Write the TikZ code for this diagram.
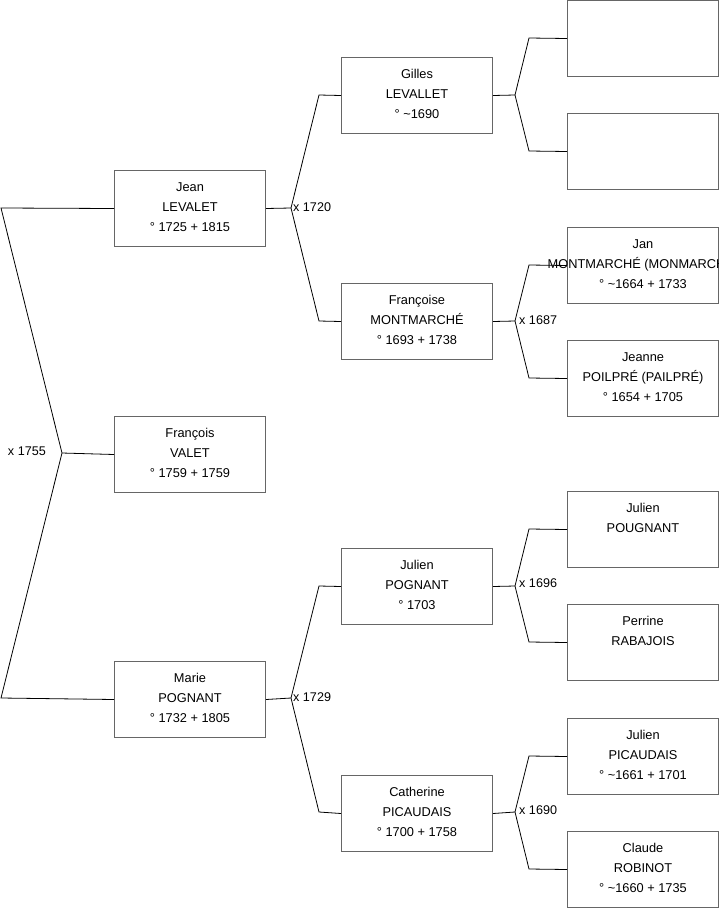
\documentclass[tikz,border=0pt]{standalone}
\usepackage{fontspec}
\setmainfont{Liberation Sans}
\begin{document}
\begin{tikzpicture}[x=1pt,y=-1pt,
  box/.style={draw=black!60,line width=1pt,fill=white,minimum width=151pt,minimum height=76pt,inner sep=0pt,anchor=north west},
  txt/.style={align=center,inner sep=0pt,font=\fontsize{12.8}{20}\selectfont},
  lbl/.style={inner sep=0pt,font=\fontsize{12.6}{15}\selectfont},
  conn/.style={draw=black,line width=0.8pt}]
\useasboundingbox (0,0) rectangle (719,908);
\clip (0,0) rectangle (719,908);
% column A
\node[box] (jean) at (114,170) {};
\node[box] (francois) at (114,416) {};
\node[box] (marie) at (114,661) {};
% column B
\node[box] (gilles) at (341,57) {};
\node[box] (francoise) at (341,283) {};
\node[box] (julien) at (341,548) {};
\node[box] (catherine) at (341,775) {};
% column C
\node[box] (c1) at (567,0) {};
\node[box] (c2) at (567,113) {};
\node[box] (c3) at (567,227) {};
\node[box] (c4) at (567,340) {};
\node[box] (c5) at (567,491) {};
\node[box] (c6) at (567,604) {};
\node[box] (c7) at (567,718) {};
\node[box] (c8) at (567,831) {};
% connectors
\coordinate (l1) at (1,208);
\coordinate (v0) at (62,453);
\coordinate (l2) at (1,698);
\draw[conn] (jean.west) -- (l1) -- (v0) -- (l2) -- (marie.west);
\draw[conn] (v0) -- (francois.west);
\node[lbl,anchor=east] (m0) at (46,451) {x 1755};

\coordinate (v1) at (291,208);
\draw[conn] (jean.east) -- (v1) -- (319,95) -- (gilles.west);
\draw[conn] (v1) -- (319,321) -- (francoise.west);
\node[lbl,anchor=west] (m1) at (293,207) {x 1720};

\coordinate (v2) at (291,698);
\draw[conn] (marie.east) -- (v2) -- (319,586) -- (julien.west);
\draw[conn] (v2) -- (319,812) -- (catherine.west);
\node[lbl,anchor=west] (m2) at (293,697) {x 1729};

\coordinate (v3) at (515,95);
\draw[conn] (gilles.east) -- (v3) -- (529,38) -- (c1.west);
\draw[conn] (v3) -- (529,151) -- (c2.west);

\coordinate (v4) at (515,321);
\draw[conn] (francoise.east) -- (v4) -- (529,265) -- (c3.west);
\draw[conn] (v4) -- (529,378) -- (c4.west);
\node[lbl,anchor=west] (m4) at (519,320) {x 1687};

\coordinate (v5) at (515,586);
\draw[conn] (julien.east) -- (v5) -- (529,529) -- (c5.west);
\draw[conn] (v5) -- (529,642) -- (c6.west);
\node[lbl,anchor=west] (m5) at (519,583) {x 1696};

\coordinate (v6) at (515,812);
\draw[conn] (catherine.east) -- (v6) -- (529,756) -- (c7.west);
\draw[conn] (v6) -- (529,869) -- (c8.west);
\node[lbl,anchor=west] (m6) at (519,810) {x 1690};
% texts
\tikzset{tshift/.style={yshift=1.5pt}}
\node[txt] (tjean) at ([tshift]jean.center) {Jean\\LEVALET\\° 1725 + 1815};
\node[txt] (tfrancois) at ([tshift]francois.center) {François\\VALET\\° 1759 + 1759};
\node[txt] (tmarie) at ([tshift]marie.center) {Marie\\POGNANT\\° 1732 + 1805};
\node[txt] (tgilles) at ([tshift]gilles.center) {Gilles\\LEVALLET\\° \textasciitilde1690};
\node[txt] (tfrancoise) at ([tshift]francoise.center) {Françoise\\MONTMARCHÉ\\° 1693 + 1738};
\node[txt] (tjulien) at ([tshift]julien.center) {Julien\\POGNANT\\° 1703};
\node[txt] (tcatherine) at ([tshift]catherine.center) {Catherine\\PICAUDAIS\\° 1700 + 1758};
\node[txt] (tc3) at ([tshift]c3.center) {Jan\\MONTMARCHÉ (MONMARCHÉ)\\° \textasciitilde1664 + 1733};
\node[txt] (tc4) at ([tshift]c4.center) {Jeanne\\POILPRÉ (PAILPRÉ)\\° 1654 + 1705};
\node[txt] (tc5) at ([tshift]c5.center) {Julien\\POUGNANT\\\mbox{}};
\node[txt] (tc6) at ([tshift]c6.center) {Perrine\\RABAJOIS\\\mbox{}};
\node[txt] (tc7) at ([tshift]c7.center) {Julien\\PICAUDAIS\\° \textasciitilde1661 + 1701};
\node[txt] (tc8) at ([tshift]c8.center) {Claude\\ROBINOT\\° \textasciitilde1660 + 1735};
\end{tikzpicture}
\end{document}
